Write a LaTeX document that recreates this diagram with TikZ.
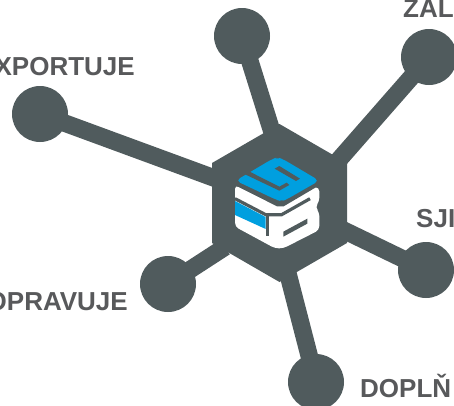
\documentclass[tikz,border=0pt]{standalone}
\usepackage{fontspec}
\setmainfont{Liberation Sans}
\definecolor{hub}{HTML}{505B5D}
\definecolor{lab}{HTML}{58595B}
\definecolor{logoblue}{HTML}{009FDF}
\tikzset{
  ball/.style={circle,fill=hub,draw=none,minimum size=56pt,inner sep=0pt},
  spoke/.style={draw=hub,line width=17.5pt},
  lbl/.style={font=\bfseries\fontsize{26}{26}\selectfont,text=lab,inner sep=0pt,text depth=0pt},
  slot/.style={draw=hub,line width=3.2pt,line cap=butt}
}
\begin{document}
\begin{tikzpicture}[x=1pt,y=-1pt]
\useasboundingbox (0,0) rectangle (454,405);
\clip (0,0) rectangle (454,405);
\node[ball] (n1) at (242,36) {};
\node[ball] (n2) at (429,57) {};
\node[ball] (n3) at (40,114) {};
\node[ball] (n4) at (426,270) {};
\node[ball] (n5) at (168,284) {};
\node[ball] (n6) at (316,382) {};
\coordinate (h1) at (273,135);
\coordinate (h2) at (330,170);
\coordinate (h3) at (225,182);
\coordinate (h4) at (335,226);
\coordinate (h5) at (225,247);
\coordinate (h6) at (287,270);
\draw[spoke] (n1.center) -- (h1);
\draw[spoke] (n2.center) -- (h2);
\draw[spoke] (n3.center) -- (h3);
\draw[spoke] (n4.center) -- (h4);
\draw[spoke] (n5.center) -- (h5);
\draw[spoke] (n6.center) -- (h6);
\fill[hub] (279.5,124) -- (347,163) -- (347,243) -- (279.5,282) -- (212,243) -- (212,163) -- cycle;
\begin{scope}[shift={(200,130)},x=0.3333pt,y=-0.3333pt]
  % white B
  \fill[white,rounded corners=4pt] (105,165) -- (240,232) -- (330,172) -- (358,172) -- (358,215) -- (345,232) -- (358,246) -- (358,300) -- (250,355) -- (225,355) -- (105,290) -- cycle;
  % blue S
  \fill[logoblue,rounded corners=5pt] (107,152) -- (215,88) -- (232,82) -- (250,88) -- (358,152) -- (262,207) -- (245,214) -- (228,209) -- cycle;
  % dark separators
  \fill[hub] (224,116) -- (238,108) -- (300,146) -- (288,153) -- cycle;
  \fill[hub] (133,132) -- (147,124) -- (238,170) -- (260,158) -- (268,165) -- (238,182) -- cycle;
  \draw[slot] (105,160) -- (232,224) -- (250,224) -- (345,168);
  \draw[slot] (105,206) -- (197,254) -- (245,254) -- (330,206);
  \draw[slot] (203,256) -- (203,318);
  \fill[logoblue] (105,213) -- (197,261) -- (197,297) -- (105,255) -- cycle;
  \fill[hub] (250,305) -- (322,266) -- (322,281) -- (250,320) -- cycle;
\end{scope}
\node[lbl,anchor=base east] (t1) at (135,75) {XPORTUJE};
\node[lbl,anchor=base west] (t2) at (403,17) {ZAL};
\node[lbl,anchor=base west] (t3) at (416,227) {SJI};
\node[lbl,anchor=base east] (t4) at (128,310) {OPRAVUJE};
\node[lbl,anchor=base west] (t5) at (360,397) {DOPLŇ};
\end{tikzpicture}
\end{document}
